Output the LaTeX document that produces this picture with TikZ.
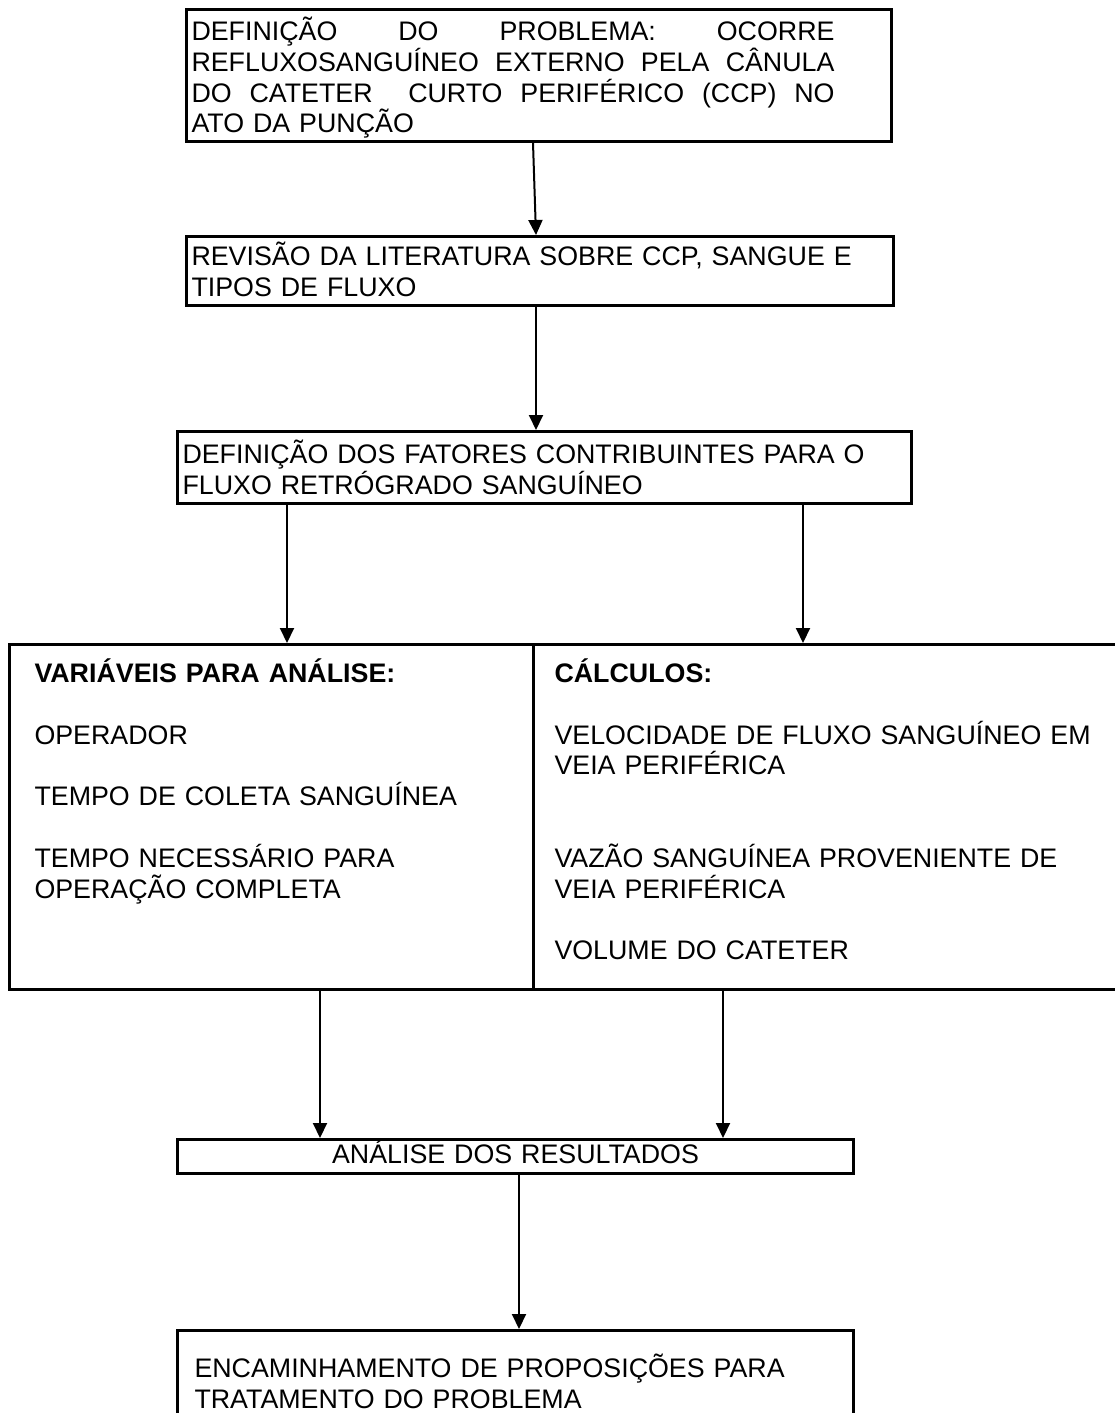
\documentclass[tikz,border=0pt]{standalone}
\usepackage{fontspec}
\setmainfont{Liberation Sans}
\usetikzlibrary{arrows.meta}

\begin{document}
\begin{tikzpicture}[x=1pt,y=-1pt,
    caixa/.style={draw, line width=3pt, rectangle, anchor=north west, inner ysep=0pt,
      align=left, font=\fontsize{26.8}{30.8}\selectfont},
    seta/.style={line width=2pt, -{Triangle[width=14pt,length=15pt]}}]
      \useasboundingbox (0,0) rectangle (1114,1413);

      \node (problema) at (185,8) [caixa, inner xsep=5pt, text width=695pt,
        text height=31pt, text depth=101pt]
        {\makebox[643pt]{DEFINIÇÃO\hfill DO\hfill PROBLEMA:\hfill OCORRE}\\
         \makebox[643pt]{REFLUXOSANGUÍNEO\hfill EXTERNO\hfill PELA\hfill CÂNULA}\\
         \makebox[643pt]{DO\hfill CATETER\hfill\hfill CURTO\hfill PERIFÉRICO\hfill (CCP)\hfill NO}\\
         ATO DA PUNÇÃO};
      \node (revisao) at (185,235) [caixa, inner xsep=5pt, text width=697pt,
        text height=29pt, text depth=40pt]
        {REVISÃO DA LITERATURA SOBRE CCP, SANGUE E\\ TIPOS DE FLUXO};
      \node (fatores) at (176,430) [caixa, inner xsep=5pt, text width=724pt,
        text height=32pt, text depth=40pt]
        {DEFINIÇÃO DOS FATORES CONTRIBUINTES PARA O\\ FLUXO RETRÓGRADO SANGUÍNEO};

      \node (variaveis) at (8,643) [caixa, inner xsep=25pt, text width=474pt,
        text height=38pt, text depth=307pt]
        {\textbf{VARIÁVEIS PARA ANÁLISE:}\\[30.8pt]
         OPERADOR\\[30.8pt]
         TEMPO DE COLETA SANGUÍNEA\\[30.8pt]
         TEMPO NECESSÁRIO PARA\\
         OPERAÇÃO COMPLETA};
      \node (calculos) at (532,643) [caixa, inner xsep=21pt, text width=543pt,
        text height=38pt, text depth=307pt]
        {\textbf{CÁLCULOS:}\\[30.8pt]
         VELOCIDADE DE FLUXO SANGUÍNEO EM\\
         VEIA PERIFÉRICA\\[61.6pt]
         VAZÃO SANGUÍNEA PROVENIENTE DE\\
         VEIA PERIFÉRICA\\[30.8pt]
         VOLUME DO CATETER};

      \node (analise) at (176,1138) [caixa, inner xsep=5pt, text width=666pt,
        text height=24pt, text depth=10pt, align=center]
        {ANÁLISE DOS RESULTADOS};
      \node (encaminhamento) at (176,1329) [caixa, inner xsep=17pt, text width=642pt,
        text height=47pt, text depth=38.5pt]
        {ENCAMINHAMENTO DE PROPOSIÇÕES PARA\\ TRATAMENTO DO PROBLEMA};

    \draw [seta] (533,0 |- problema.south) to (536,0 |- revisao.north);
    \draw [seta] (536,0 |- revisao.south) to (536,0 |- fatores.north);
    \draw [seta] (287,0 |- fatores.south) to (287,0 |- variaveis.north);
    \draw [seta] (803,0 |- fatores.south) to (803,0 |- calculos.north);
    \draw [seta] (320,0 |- variaveis.south) to (320,0 |- analise.north);
    \draw [seta] (723,0 |- calculos.south) to (723,0 |- analise.north);
    \draw [seta] (519,0 |- analise.south) to (519,0 |- encaminhamento.north);
  \end{tikzpicture}
\end{document}
